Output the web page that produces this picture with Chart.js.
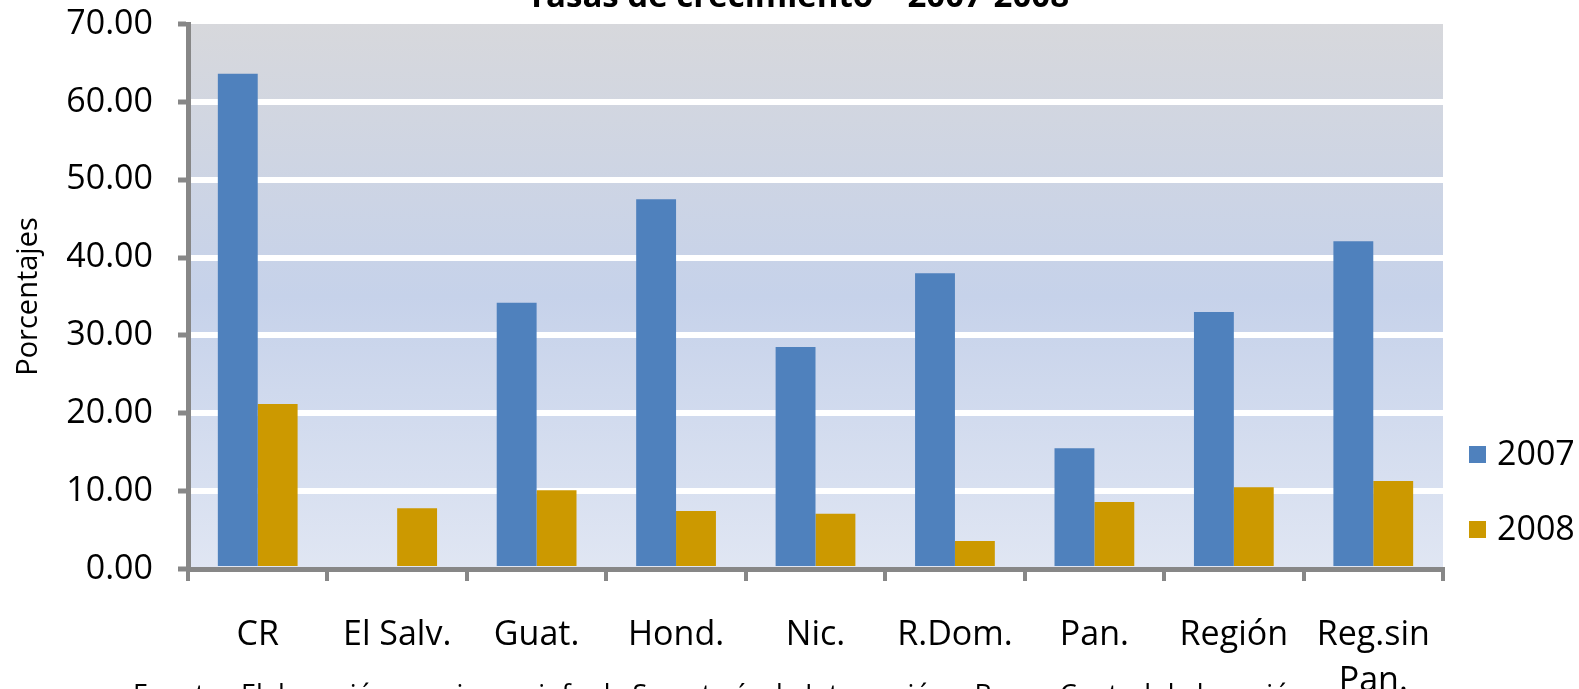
<!DOCTYPE html>
<html>
<head>
<meta charset="utf-8">
<script src="https://cdn.jsdelivr.net/npm/chart.js@4/dist/chart.umd.min.js"></script>
<style>
  html, body { margin: 0; padding: 0; background: #ffffff; overflow: hidden; }
  #wrap { position: relative; width: 1579px; height: 689px; }
</style>
</head>
<body>
<div id="wrap"><canvas id="c" width="1579" height="689"></canvas></div>
<script>
const categories = ["CR", "El Salv.", "Guat.", "Hond.", "Nic.", "R.Dom.", "Pan.", "Región", ["Reg.sin", "Pan."]];
const series2007 = [63.6, null, 34.2, 47.5, 28.5, 38.0, 15.5, 33.0, 42.1];
const series2008 = [21.2, 7.8, 10.1, 7.45, 7.1, 3.6, 8.6, 10.5, 11.3];
const seriesNames = ["2007", "2008"];
const seriesColors = ["#4f81bd", "#cc9900"];
const titleText = "Tasas de crecimiento    2007-2008";
const yAxisTitle = "Porcentajes";
const footnote = "Fuente:  Elaboración propia con info de Secretaría de Integración y Banco Central de la región";

const FONT = "'Open Sans', 'DejaVu Sans', sans-serif";
const AXIS_GRAY = "#878787";

const bgPlugin = {
  id: 'bg',
  beforeDraw(chart) {
    const { ctx, chartArea: a } = chart;
    const g = ctx.createLinearGradient(0, a.top, 0, a.bottom);
    g.addColorStop(0, '#d7d8dc');
    g.addColorStop(0.5, '#c6d2ea');
    g.addColorStop(1, '#e0e6f3');
    ctx.save();
    ctx.fillStyle = g;
    ctx.fillRect(a.left, a.top, a.right - a.left, a.bottom - a.top);
    ctx.restore();
  }
};

const textPlugin = {
  id: 'texts',
  afterDraw(chart) {
    const { ctx } = chart;
    ctx.save();
    ctx.fillStyle = '#000';
    ctx.font = "bold 33px " + FONT;
    ctx.textAlign = 'center';
    ctx.textBaseline = 'alphabetic';
    ctx.fillText(titleText, 798, 7);
    ctx.font = "27px " + FONT;
    ctx.textAlign = 'left';
    ctx.fillText(footnote, 133, 704);
    ctx.font = "34px " + FONT;
    ctx.textBaseline = 'middle';
    const ys = [455, 530];
    chart.data.datasets.forEach((ds, i) => {
      ctx.fillStyle = ds.backgroundColor;
      ctx.fillRect(1469, ys[i] - 9, 17, 17);
      ctx.fillStyle = '#000';
      ctx.fillText(ds.label, 1497, ys[i]);
    });
    ctx.restore();
  }
};

new Chart(document.getElementById('c'), {
  type: 'bar',
  data: {
    labels: categories,
    datasets: [
      { label: seriesNames[0], data: series2007, backgroundColor: seriesColors[0], borderWidth: 0 },
      { label: seriesNames[1], data: series2008, backgroundColor: seriesColors[1], borderWidth: 0 }
    ]
  },
  options: {
    responsive: false,
    animation: false,
    devicePixelRatio: 1,
    layout: { padding: { top: 24, right: 136, left: 0, bottom: 0 } },
    datasets: { bar: { categoryPercentage: 0.572, barPercentage: 1.0 } },
    plugins: {
      legend: { display: false },
      title: { display: false },
      tooltip: { enabled: false }
    },
    scales: {
      x: {
        afterFit(scale) { scale.height = 120; },
        grid: {
          display: true,
          drawOnChartArea: false,
          drawTicks: true,
          tickLength: 12,
          color: AXIS_GRAY,
          tickColor: AXIS_GRAY,
          lineWidth: 4,
          tickWidth: 4,
          offset: true
        },
        border: { display: true, color: AXIS_GRAY, width: 5 },
        ticks: {
          color: '#000',
          font: { family: FONT, size: 34, lineHeight: 1.35 },
          padding: 31,
          maxRotation: 0,
          autoSkip: false
        }
      },
      y: {
        min: 0,
        max: 70,
        afterFit(scale) { scale.width = 188; scale.paddingTop = 0; scale.paddingBottom = 0; },
        grid: {
          drawTicks: true,
          tickLength: 10,
          color: (c) => (c.tick && (c.tick.value === 0 || c.tick.value === 70)) ? 'rgba(0,0,0,0)' : '#ffffff',
          lineWidth: 6,
          tickColor: AXIS_GRAY,
          tickWidth: 5
        },
        border: { display: true, color: AXIS_GRAY, width: 5 },
        ticks: {
          stepSize: 10,
          color: '#000',
          font: { family: FONT, size: 34 },
          padding: 25,
          callback: (v) => Number(v).toFixed(2)
        },
        title: {
          display: true,
          text: yAxisTitle,
          color: '#000',
          font: { family: FONT, size: 29 },
          padding: { top: 11, bottom: 0 }
        }
      }
    }
  },
  plugins: [bgPlugin, textPlugin]
});
</script>
</body>
</html>
